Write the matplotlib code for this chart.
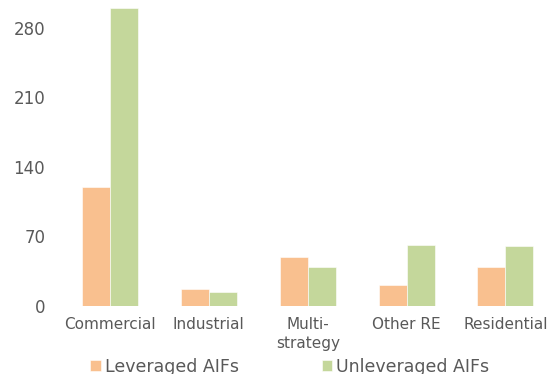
import matplotlib
matplotlib.use("Agg")
import matplotlib.pyplot as plt
import numpy as np

categories = ["Commercial", "Industrial", "Multi-\nstrategy", "Other RE", "Residential"]
leveraged = [120, 17, 49, 21, 39]
unleveraged = [300, 14, 39, 61, 60]
yticks = [0, 70, 140, 210, 280]

orange = "#F9C08F"
green = "#C4D79B"
text_color = "#595959"

fig = plt.figure(figsize=(5.47, 3.74), dpi=100)
ax = fig.add_axes([0.1106, 0.1818, 0.8894, 0.7965])

x = np.arange(len(categories))
w = 0.283
ax.bar(x - w / 2, leveraged, w, color=orange, edgecolor="white", linewidth=0.4, label="Leveraged AIFs")
ax.bar(x + w / 2, unleveraged, w, color=green, edgecolor="white", linewidth=0.4, label="Unleveraged AIFs")

ax.set_ylim(0, 300)
ax.set_xlim(-0.5, 4.42)
ax.set_yticks(yticks)
ax.set_xticks(x)
ax.set_xticklabels(categories, linespacing=1.35)
for s in ax.spines.values():
    s.set_visible(False)
ax.tick_params(axis="x", length=0, labelsize=11, colors=text_color, pad=8)
ax.tick_params(axis="y", length=0, labelsize=12, colors=text_color, pad=11)

fig.legend(loc="center", bbox_to_anchor=(0.530, 0.02), ncol=2, frameon=False,
           fontsize=12.5, handlelength=0.6, handleheight=0.6, handletextpad=0.25,
           columnspacing=4.75, labelcolor=text_color)

fig.savefig("out.png", dpi=100)
